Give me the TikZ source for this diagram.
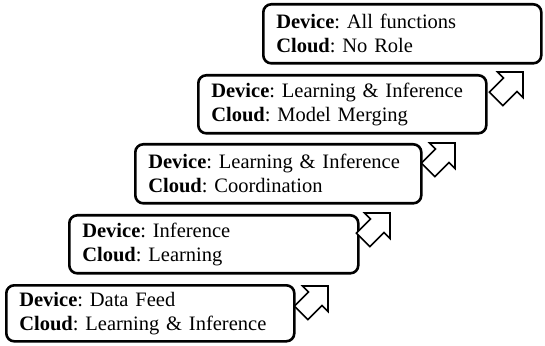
\documentclass[tikz,border=0pt]{standalone}
\usepackage{fontspec}
\setmainfont{Liberation Serif}
\begin{document}
\frenchspacing
\begin{tikzpicture}[x=1pt,y=1pt,
  stagebox/.style={draw=black, line width=2.6pt, rounded corners=8pt, fill=white,
    anchor=north west, align=left, inner xsep=13pt, inner ysep=0pt,
    font=\fontsize{20.5}{24}\selectfont\frenchspacing},
  uparrow/.style={draw=black, fill=white, line width=1.6pt, line join=miter}
]
\useasboundingbox (0,0) rectangle (545,345);
% boxes: (left, top) in pixel coords, y flipped
\node[stagebox, text width=262pt, minimum height=56pt] (b1) at (5,{345-284})
  {\textbf{Device}: Data Feed\\\textbf{Cloud}: Learning \& Inference};
\node[stagebox, text width=263pt, minimum height=58pt] (b2) at (68,{345-214})
  {\textbf{Device}: Inference\\\textbf{Cloud}: Learning};
\node[stagebox, text width=260pt, minimum height=59pt] (b3) at (134,{345-143})
  {\textbf{Device}: Learning \& Inference\\\textbf{Cloud}: Coordination};
\node[stagebox, text width=262pt, minimum height=58pt] (b4) at (197,{345-74})
  {\textbf{Device}: Learning \& Inference\\\textbf{Cloud}: Model Merging};
\node[stagebox, text width=252pt, minimum height=59pt] (b5) at (262,{345-3})
  {\textbf{Device}: All functions\\\textbf{Cloud}: No Role};
% block arrows pointing up-right; tip positions
\foreach \tx/\ty in {328/286, 390/213, 455/143, 523/72}{
  \begin{scope}[shift={(\tx,{345-\ty})}, rotate=45]
    \draw[uparrow] (0,0) -- (-18,-18) -- (-18,-9.5) -- (-38,-9.5) -- (-38,9.5)
      -- (-18,9.5) -- (-18,18) -- cycle;
  \end{scope}
}
\end{tikzpicture}
\end{document}
